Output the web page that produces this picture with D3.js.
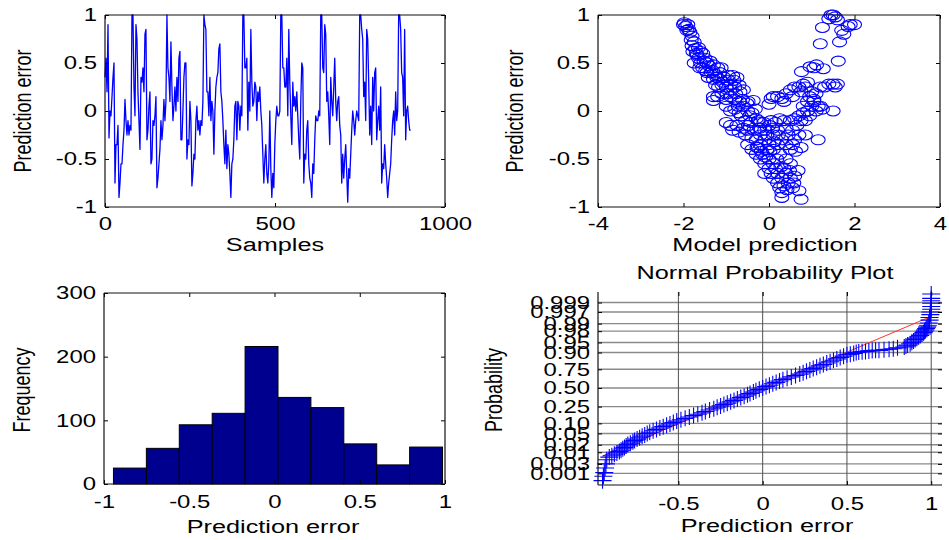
<!DOCTYPE html>
<html>
<head>
<meta charset="utf-8">
<script src="https://cdn.jsdelivr.net/npm/d3@7"></script>
<style>
  html, body { margin: 0; padding: 0; background: #fff; }
  svg { display: block; }
</style>
</head>
<body>
<svg id="fig" width="949" height="540"></svg>
<script>
// ---------------- data ----------------
// prediction error, one value every few samples over the run
const errorSeries = [
  0.35, 0.55, 0.2, 0.9, -0.28, 0.0, -0.05, 0.15, 0.35, 0.5, -0.75, -0.35, -0.35, -0.15, -0.9, -0.75, -0.55, -0.55, -0.35, -0.2, 0.12, -0.1, -0.25, -0.1, -0.25, -0.15, -0.2, 1.0,
  1.0, 0.25, -0.05, 0.9, 0.75, 0.2, -0.1, -0.4, 0.35, 0.3, 0.45, 0.2, 0.8, 0.85, -0.3, -0.2, 0.05, 0.2, -0.55, -0.5, -0.1, -0.15, -0.05, 0.15, -0.8, -0.7, -0.55, -0.4, -0.1, -0.3, -0.15, 0.12, -0.1, 0.1,
  1.0, 0.45, 0.35, 0.1, 0.72, 0.25, -0.1, 0.05, 0.25, 0.0, 0.35, 0.1, 0.55, 0.62, -0.3, -0.3, 0.0, 0.35, 0.5, 0.5, -0.5, -0.3, -0.35, 0.1, -0.1, -0.78, -0.65, -0.45, -0.5, -0.1, 0.05, -0.2, -0.1, -0.25, -0.1, -0.15, 0.1,
  1.0, 0.9, 0.85, 0.2, 0.2, -0.05, 0.35, -0.1, 0.1, 0.0, -0.45, 0.0, 0.25, 0.35, 0.4, 0.65, 0.7, 0.2, 0.1, -0.1, -0.35, -0.55, -0.2, -0.6, -0.35, -0.45, -0.65, -0.9, -0.55, -0.5, -0.3, 0.05, 0.1, -0.3, 0.1, 0.05, -0.2, 0.05, -0.05,
  1.0, 1.0, 0.45, 0.45, 0.55, -0.2, 0.3, 0.0, 0.85, 0.3, 0.05, 0.1, 0.3, 0.25, -0.1, 0.2, 0.1, 0.25, 0.0, -0.15, -0.45, -0.75, -0.5, -0.35, -0.65, -0.75, -0.55, 0.0, -0.6, -0.9, -0.65, -0.8, -0.35, -0.1, 0.05, -0.05, -0.05, 0.0,
  1.0, 1.0, 0.45, 0.45, 0.25, 0.25, 0.55, -0.05, 0.85, 0.3, -0.05, -0.35, 0.3, 0.05, 0.15, 0.0, 0.2, -0.05, -0.3, -0.5, 0.1, 0.5, 0.45, -0.75, -0.45, -0.5, -0.2, -0.1, -0.55, -0.7, -0.75, -0.9, -0.55, -0.65, -0.3, -0.05, -0.1, -0.1, 0.0, -0.05,
  1.0, 1.0, 0.45, 0.4, 0.9, 0.8, 0.1, 0.2, -0.05, -0.35, 0.35, 0.1, -0.05, 0.25, 0.55, 0.1, -0.1, 0.1, 0.15, -0.15, -0.25, -0.75, -0.45, -0.7, -0.5, -0.35, -0.65, -0.95, -0.6, -0.7, -0.45, -0.2, 0.0, -0.1, -0.25, -0.1, 0.0, -0.05, -0.1,
  1.0, 1.0, 0.85, 0.75, 0.15, 0.3, -0.1, 0.85, 0.75, 0.3, -0.25, 0.05, -0.35, 0.35, 0.0, 0.4, 0.45, -0.3, -0.1, 0.05, -0.2, 0.25, -0.75, -0.55, -0.6, -0.35, -0.55, -0.7, -0.9, -0.75, -0.65, -0.55, -0.3, -0.1, 0.0, -0.25, 0.2, -0.1, 0.0, 1.0, 1.0, 0.85, 0.4, 0.35, -0.05, 0.85, -0.3, 0.0, 0.05, -0.1, -0.2, -0.2
];
const seriesLength = 900;           // number of samples covered by errorSeries

// model prediction vs prediction error
const predX = [
  -2.0, -1.95, -1.9, -1.88, -1.85, -1.8, -1.75, -1.8, -1.72, -1.65, -1.6, -1.7, -1.55, -1.65, -1.5, -1.75, -1.6, -1.45, -1.55, -1.4, -1.3, -1.45, -1.35, -1.2, -1.25, -1.15, -1.3, -1.15, -1.05, -0.95, -0.85, -0.75, -1.25, -1.1, -1.0, -0.9, -0.8, -0.7, -0.6, -0.49, -0.37, -1.3, -1.2, -1.1, -1.0, -0.9, -0.8, -0.7, -1.3, -1.0, -0.9, -0.8, -0.7, -0.6, -0.5, -0.45, -0.4, -0.3, -0.25, -0.2, -1.0, -0.9, -0.85, -0.75, -0.7, -0.6, -0.55, -0.5, -0.4, -0.3, -0.2, -0.1, 0.0,
  -1.98, -1.92, -1.82, -1.78, -1.68, -1.62, -1.52, -1.48, -1.42, -1.38, -1.32, -1.22, -1.18, -1.12, -1.08, -0.98, -0.95, -0.88, -0.82, -0.78, -0.72, -0.68, -0.65, -0.62, -0.55, -0.52, -0.48, -0.42, -0.35, -0.32, -0.28, -0.22, -0.18, -0.12, -0.08, -0.05,
  -0.5, -0.4, -0.3, -0.25, -0.2, -0.15, -0.1, -0.05, 0.0, 0.0, 0.05, -0.1, 0.1, 0.1, 0.15, 0.2, 0.2, 0.25, 0.3, 0.3, 0.35, 0.4, 0.45, 0.5, 0.55, 0.6, 0.7, 0.75, 0.3, 0.25, 0.4, 0.5, 0.3, 0.4, 0.45, -0.1, 0.0, 0.1, 0.1, 0.2, -0.2,
  0.02, 0.08, 0.12, 0.18, 0.22, 0.28, 0.35, 0.42, 0.48, 0.58, 0.62, 0.68, 0.55, 0.5,
  0.05, 0.15, 0.2, 0.25, 0.35, 0.4, 0.5, 0.55, 0.6, 0.65, 0.7, 0.75, 0.8, 0.85, 0.9, 0.95, 1.0, 1.05, 1.1, 1.15, 1.2, 1.25, 1.5, 1.15, 0.75, 0.7, 0.85, 0.6,
  0.0, 0.1, 0.05, 0.2, 0.3, 0.4, 0.35, 0.5, 0.55, 0.6, 0.7, 0.75, 0.8, 0.85, 0.9, 0.95, 1.0, 1.05, 1.1, 1.2, 1.3, 1.4, 1.5, 1.55, 1.6, 0.76, 0.96, 1.11, 1.27, 1.05, 0.9, 0.8,
  1.2, 1.25, 1.4, 1.45, 1.5, 1.55, 1.6, 1.65, 1.62, 1.7, 1.75, 1.85, 1.9, 2.0
];
const predErr = [
  0.90, 0.88, 0.90, 0.85, 0.82, 0.78, 0.72, 0.68, 0.65, 0.66, 0.62, 0.60, 0.60, 0.55, 0.55, 0.50, 0.50, 0.50, 0.45, 0.47, 0.48, 0.40, 0.40, 0.45, 0.38, 0.40, 0.33, 0.33, 0.35, 0.37, 0.37, 0.35, 0.27, 0.27, 0.25, 0.28, 0.25, 0.27, 0.22, 0.10, 0.11, 0.15, 0.15, 0.18, 0.12, 0.15, 0.12, 0.10, 0.11, 0.05, 0.00, 0.02, -0.02, 0.05, 0.00, -0.05, -0.02, -0.08, -0.10, -0.12, -0.12, -0.15, -0.20, -0.15, -0.22, -0.18, -0.25, -0.20, -0.28, -0.30, -0.25, -0.20, -0.15,
  0.92, 0.84, 0.74, 0.62, 0.58, 0.45, 0.52, 0.42, 0.35, 0.52, 0.42, 0.35, 0.25, 0.45, 0.30, 0.18, 0.32, 0.22, 0.32, 0.18, 0.05, 0.20, -0.05, 0.12, -0.10, 0.08, -0.15, -0.12, -0.20, 0.02, -0.38, -0.18, -0.42, -0.12, -0.48, -0.25,
  -0.35, -0.40, -0.45, -0.38, -0.50, -0.45, -0.55, -0.40, -0.50, -0.60, -0.65, -0.65, -0.55, -0.70, -0.60, -0.75, -0.65, -0.80, -0.70, -0.85, -0.78, -0.65, -0.75, -0.70, -0.80, -0.68, -0.83, -0.92, -0.90, -0.45, -0.50, -0.55, -0.30, -0.35, -0.25, -0.30, -0.35, -0.25, -0.40, -0.35, -0.35,
  -0.42, -0.18, -0.32, -0.50, -0.25, -0.58, -0.60, -0.82, -0.62, -0.75, -0.42, -0.62, -0.35, -0.40,
  -0.10, -0.12, -0.20, -0.08, -0.10, -0.18, -0.10, -0.20, -0.08, -0.15, -0.05, -0.10, -0.02, -0.10, 0.00, -0.05, 0.05, 0.10, 0.00, 0.05, 0.05, 0.02, 0.00, -0.30, -0.38, -0.25, -0.25, -0.30,
  0.07, 0.15, 0.13, 0.15, 0.13, 0.18, 0.10, 0.22, 0.15, 0.25, 0.25, 0.20, 0.28, 0.25, 0.30, 0.15, 0.20, 0.12, 0.18, 0.25, 0.25, 0.28, 0.28, 0.25, 0.28, 0.41, 0.46, 0.48, 0.44, 0.45, 0.10, 0.05,
  0.70, 0.87, 0.96, 1.00, 1.00, 0.98, 0.95, 0.72, 0.52, 0.84, 0.80, 0.88, 0.90, 0.90
];

// histogram of prediction error
const histCenters = [-0.848, -0.655, -0.462, -0.269, -0.076, 0.117, 0.310, 0.503, 0.696, 0.889];
const histCounts  = [25, 56, 93, 111, 216, 136, 120, 63, 30, 58];

// normal probability plot: sorted error and its plotting probability
const npError = [
  -0.95, -0.945, -0.94, -0.935, -0.93, -0.925, -0.91, -0.895, -0.88, -0.865, -0.85, -0.84, -0.83, -0.82, -0.81, -0.80, -0.785, -0.77, -0.76, -0.745,
  -0.73, -0.715, -0.70, -0.685, -0.67, -0.65, -0.63, -0.61, -0.59, -0.57, -0.55, -0.53, -0.51, -0.485, -0.46, -0.435, -0.41, -0.385, -0.36, -0.34,
  -0.315, -0.29, -0.27, -0.25, -0.23, -0.21, -0.19, -0.17, -0.15, -0.13, -0.11, -0.09, -0.075, -0.055, -0.04, -0.02, 0.0, 0.02, 0.04, 0.06,
  0.08, 0.10, 0.12, 0.145, 0.17, 0.195, 0.22, 0.24, 0.26, 0.28, 0.30, 0.32, 0.34, 0.36, 0.38, 0.40, 0.42, 0.44, 0.46, 0.48,
  0.50, 0.52, 0.54, 0.555, 0.57, 0.59, 0.61, 0.63, 0.65, 0.67, 0.69, 0.72, 0.75, 0.775, 0.80, 0.84, 0.85, 0.86, 0.875, 0.885,
  0.895, 0.905, 0.915, 0.925, 0.935, 0.945, 0.955, 0.96, 0.965, 0.97, 0.975, 0.98, 0.985, 0.99, 0.99, 0.995, 0.995, 1.0, 1.0, 1.0,
  1.0, 1.0, 1.0
];
const npProb = [
  0.0004, 0.0007, 0.0011, 0.0019, 0.0030, 0.0047, 0.0062, 0.0071, 0.0082, 0.0094, 0.0107, 0.0122, 0.0139, 0.0158, 0.0179, 0.0202, 0.0228, 0.0256, 0.0287, 0.0322,
  0.0359, 0.0401, 0.0446, 0.0495, 0.0548, 0.0606, 0.0668, 0.0735, 0.0808, 0.0885, 0.0968, 0.1057, 0.1151, 0.1251, 0.1357, 0.1469, 0.1587, 0.1711, 0.1841, 0.1977,
  0.2119, 0.2266, 0.2420, 0.2579, 0.2743, 0.2912, 0.3085, 0.3264, 0.3446, 0.3632, 0.3821, 0.4013, 0.4207, 0.4404, 0.4602, 0.4801, 0.5, 0.5199, 0.5398, 0.5596,
  0.5793, 0.5987, 0.6179, 0.6368, 0.6554, 0.6736, 0.6915, 0.7088, 0.7257, 0.7422, 0.7580, 0.7734, 0.7881, 0.8023, 0.8159, 0.8289, 0.8413, 0.8531, 0.8643, 0.8749,
  0.8849, 0.8888, 0.8944, 0.8997, 0.9032, 0.9049, 0.9066, 0.9099, 0.9115, 0.9131, 0.9131, 0.9162, 0.9192, 0.9222, 0.9265, 0.9306, 0.9357, 0.9394, 0.9452, 0.9505,
  0.9554, 0.9599, 0.9641, 0.9678, 0.9713, 0.9744, 0.9772, 0.9798, 0.9821, 0.9842, 0.9861, 0.9878, 0.9906, 0.9929, 0.9946, 0.9960, 0.9970, 0.9978, 0.9984, 0.9989,
  0.9992, 0.9994, 0.99966
];
// fitted normal reference line
const refMean = 0.0;
const refStd = 0.386;

// axis ticks
const seriesXTicks = [0, 500, 1000];
const errTicks = [-1, -0.5, 0, 0.5, 1];
const predTicks = [-4, -2, 0, 2, 4];
const freqTicks = [0, 100, 200, 300];
const npXTicks = [-0.5, 0, 0.5, 1];
const probTicks = [0.001, 0.003, 0.01, 0.02, 0.05, 0.10, 0.25, 0.50, 0.75, 0.90, 0.95, 0.98, 0.99, 0.997, 0.999];
const probTickLabels = ["0.001", "0.003", "0.01", "0.02", "0.05", "0.10", "0.25", "0.50", "0.75", "0.90", "0.95", "0.98", "0.99", "0.997", "0.999"];

// ---------------- drawing ----------------
const FONT = '"Liberation Sans", Arial, Helvetica, sans-serif';
const SX = 1.33;          // figure text is drawn slightly widened
const TICK_FS = 18, LABEL_FS = 19, YLABEL_FS = 18;
const BLUE = "#0000ff";

const svg = d3.select("#fig");

// inverse of the standard normal CDF (Acklam)
function probit(p) {
  const a = [-3.969683028665376e+01, 2.209460984245205e+02, -2.759285104469687e+02, 1.383577518672690e+02, -3.066479806614716e+01, 2.506628277459239e+00];
  const b = [-5.447609879822406e+01, 1.615858368580409e+02, -1.556989798598866e+02, 6.680131188771972e+01, -1.328068155288572e+01];
  const c = [-7.784894002430293e-03, -3.223964580411365e-01, -2.400758277161838e+00, -2.549732539343734e+00, 4.374664141464968e+00, 2.938163982698783e+00];
  const d = [7.784695709041462e-03, 3.224671290700398e-01, 2.445134137142996e+00, 3.754408661907416e+00];
  const pl = 0.02425, ph = 1 - pl;
  if (p < pl) {
    const q = Math.sqrt(-2 * Math.log(p));
    return (((((c[0]*q+c[1])*q+c[2])*q+c[3])*q+c[4])*q+c[5]) / ((((d[0]*q+d[1])*q+d[2])*q+d[3])*q+1);
  }
  if (p <= ph) {
    const q = p - 0.5, r = q * q;
    return (((((a[0]*r+a[1])*r+a[2])*r+a[3])*r+a[4])*r+a[5])*q / (((((b[0]*r+b[1])*r+b[2])*r+b[3])*r+b[4])*r+1);
  }
  const q = Math.sqrt(-2 * Math.log(1 - p));
  return -(((((c[0]*q+c[1])*q+c[2])*q+c[3])*q+c[4])*q+c[5]) / ((((d[0]*q+d[1])*q+d[2])*q+d[3])*q+1);
}

function hText(x, y, str, size, anchor = "middle") {
  svg.append("text")
    .attr("transform", `translate(${x},${y}) scale(${SX},1)`)
    .attr("text-anchor", anchor)
    .attr("font-family", FONT).attr("font-size", size).attr("fill", "#000")
    .text(str);
}
function vText(x, y, str, size) {
  svg.append("text")
    .attr("transform", `translate(${x},${y}) scale(${SX},1) rotate(-90)`)
    .attr("text-anchor", "middle")
    .attr("font-family", FONT).attr("font-size", size).attr("fill", "#000")
    .text(str);
}

// Matlab-style boxed axes: inward ticks on all four sides, labels on left and bottom
function drawAxes(x, y, xTicks, yTicks, opts = {}) {
  const [x0, x1] = x.range();
  const [y0, y1] = y.range();   // y0 = bottom, y1 = top
  const g = svg.append("g");
  const fmtX = opts.xFormat || (d => String(d));
  const fmtY = opts.yFormat || (d => String(d));
  const xPad = opts.xPad || 10;

  const style = sel => {
    sel.select(".domain").remove();
    sel.attr("font-family", FONT).attr("font-size", TICK_FS);
    sel.selectAll("line").attr("stroke", "#000").attr("stroke-width", 1);
    sel.selectAll("text").attr("fill", "#000").attr("transform", `scale(${SX},1)`);
  };

  g.append("g").attr("transform", `translate(0,${y0})`)
    .call(d3.axisBottom(x).tickValues(xTicks).tickSizeInner(-4).tickSizeOuter(0).tickPadding(xPad).tickFormat(fmtX))
    .call(style);
  g.append("g").attr("transform", `translate(0,${y1})`)
    .call(d3.axisTop(x).tickValues(xTicks).tickSizeInner(-4).tickSizeOuter(0).tickFormat(""))
    .call(style);
  g.append("g").attr("transform", `translate(${x0},0)`)
    .call(d3.axisLeft(y).tickValues(yTicks).tickSizeInner(-4).tickSizeOuter(0).tickPadding(6).tickFormat(fmtY))
    .call(style);
  g.append("g").attr("transform", `translate(${x1},0)`)
    .call(d3.axisRight(y).tickValues(yTicks).tickSizeInner(-4).tickSizeOuter(0).tickFormat(""))
    .call(style);

  const frame = g.append("g").attr("fill", "none").attr("stroke", "#111").attr("stroke-width", 1.2);
  frame.append("line").attr("x1", x0).attr("x2", x1).attr("y1", y0).attr("y2", y0);
  frame.append("line").attr("x1", x0).attr("x2", x0).attr("y1", y0).attr("y2", y1);
  if (!opts.openBox) {
    frame.append("line").attr("x1", x0).attr("x2", x1).attr("y1", y1).attr("y2", y1);
    frame.append("line").attr("x1", x1).attr("x2", x1).attr("y1", y0).attr("y2", y1);
  }
  return g;
}

// ---- 1. prediction error over samples ----
{
  const x = d3.scaleLinear().domain([0, 1000]).range([105, 445]);
  const y = d3.scaleLinear().domain([-1, 1]).range([207, 15]);
  const step = (seriesLength - 1) / (errorSeries.length - 1);
  svg.append("path")
    .datum(errorSeries)
    .attr("fill", "none").attr("stroke", BLUE).attr("stroke-width", 1.3)
    .attr("stroke-linejoin", "round")
    .attr("d", d3.line().x((d, i) => x(i * step)).y(d => y(d)));
  drawAxes(x, y, seriesXTicks, errTicks, { xPad: 10 });
  hText(275, 251, "Samples", LABEL_FS);
  vText(31, 111, "Prediction error", YLABEL_FS);
}

// ---- 2. prediction error vs model prediction ----
{
  const x = d3.scaleLinear().domain([-4, 4]).range([598, 940]);
  const y = d3.scaleLinear().domain([-1, 1]).range([207, 15]);
  svg.append("g")
    .selectAll("ellipse")
    .data(d3.range(predX.length))
    .join("ellipse")
    .attr("cx", i => x(predX[i]))
    .attr("cy", i => y(predErr[i]))
    .attr("rx", 7).attr("ry", 5)
    .attr("fill", "none").attr("stroke", BLUE).attr("stroke-width", 1.1);
  drawAxes(x, y, predTicks, errTicks, { xPad: 10 });
  hText(765, 251, "Model prediction", LABEL_FS);
  vText(523, 111, "Prediction error", YLABEL_FS);
}

// ---- 3. histogram of prediction error ----
{
  const x = d3.scaleLinear().domain([-1, 1]).range([104, 445]);
  const y = d3.scaleLinear().domain([0, 300]).range([484, 293]);
  const binW = histCenters[1] - histCenters[0];
  svg.append("g")
    .selectAll("rect")
    .data(histCounts)
    .join("rect")
    .attr("x", (d, i) => x(histCenters[i] - binW / 2))
    .attr("width", (d, i) => x(histCenters[i] + binW / 2) - x(histCenters[i] - binW / 2))
    .attr("y", d => y(d))
    .attr("height", d => y(0) - y(d))
    .attr("fill", "#00008f").attr("stroke", "#000").attr("stroke-width", 1);
  drawAxes(x, y, errTicks, freqTicks, { xPad: 11 });
  hText(273, 533, "Prediction error", LABEL_FS);
  vText(30, 390, "Frequency", YLABEL_FS);
}

// ---- 4. normal probability plot ----
{
  const x = d3.scaleLinear().domain([-0.977, 1.064]).range([598, 942]);
  const z = d3.scaleLinear().domain([-3.51, 3.47]).range([485, 292]);
  const yP = p => z(probit(p));

  // grid
  const grid = svg.append("g");
  grid.selectAll("line.h").data(probTicks).join("line").attr("class", "h")
    .attr("x1", 598).attr("x2", 942)
    .attr("y1", d => yP(d)).attr("y2", d => yP(d))
    .attr("stroke", "#8a8a8a").attr("stroke-width", 1.4);
  grid.selectAll("line.v").data(npXTicks).join("line").attr("class", "v")
    .attr("x1", d => x(d)).attr("x2", d => x(d))
    .attr("y1", 292).attr("y2", 485)
    .attr("stroke", "#505050").attr("stroke-width", 1);

  // reference line
  const ext = d3.extent(npError);
  svg.append("path")
    .datum(ext)
    .attr("fill", "none").attr("stroke", "#ff3030").attr("stroke-width", 1)
    .attr("d", d3.line().x(d => x(d)).y(d => z((d - refMean) / refStd)));

  // data markers
  svg.append("g")
    .selectAll("path")
    .data(d3.range(npError.length))
    .join("path")
    .attr("transform", i => `translate(${x(npError[i])},${yP(npProb[i])})`)
    .attr("d", "M-9,0H9M0,-8V8")
    .attr("fill", "none").attr("stroke", BLUE).attr("stroke-width", 1.1);

  // axes: probability ticks on a normal-quantile scale
  const yAxisScale = d3.scaleLinear().domain(z.domain()).range(z.range());
  const probZ = probTicks.map(probit);
  const labelOf = new Map(probZ.map((v, i) => [v, probTickLabels[i]]));
  drawAxes(x, yAxisScale, npXTicks, probZ, {
    xPad: 12, openBox: true,
    xFormat: d => String(d),
    yFormat: d => labelOf.get(d)
  });
  hText(765, 279, "Normal Probability Plot", LABEL_FS);
  hText(767, 532, "Prediction error", LABEL_FS);
  vText(502, 390, "Probability", YLABEL_FS);
}
</script>
</body>
</html>
